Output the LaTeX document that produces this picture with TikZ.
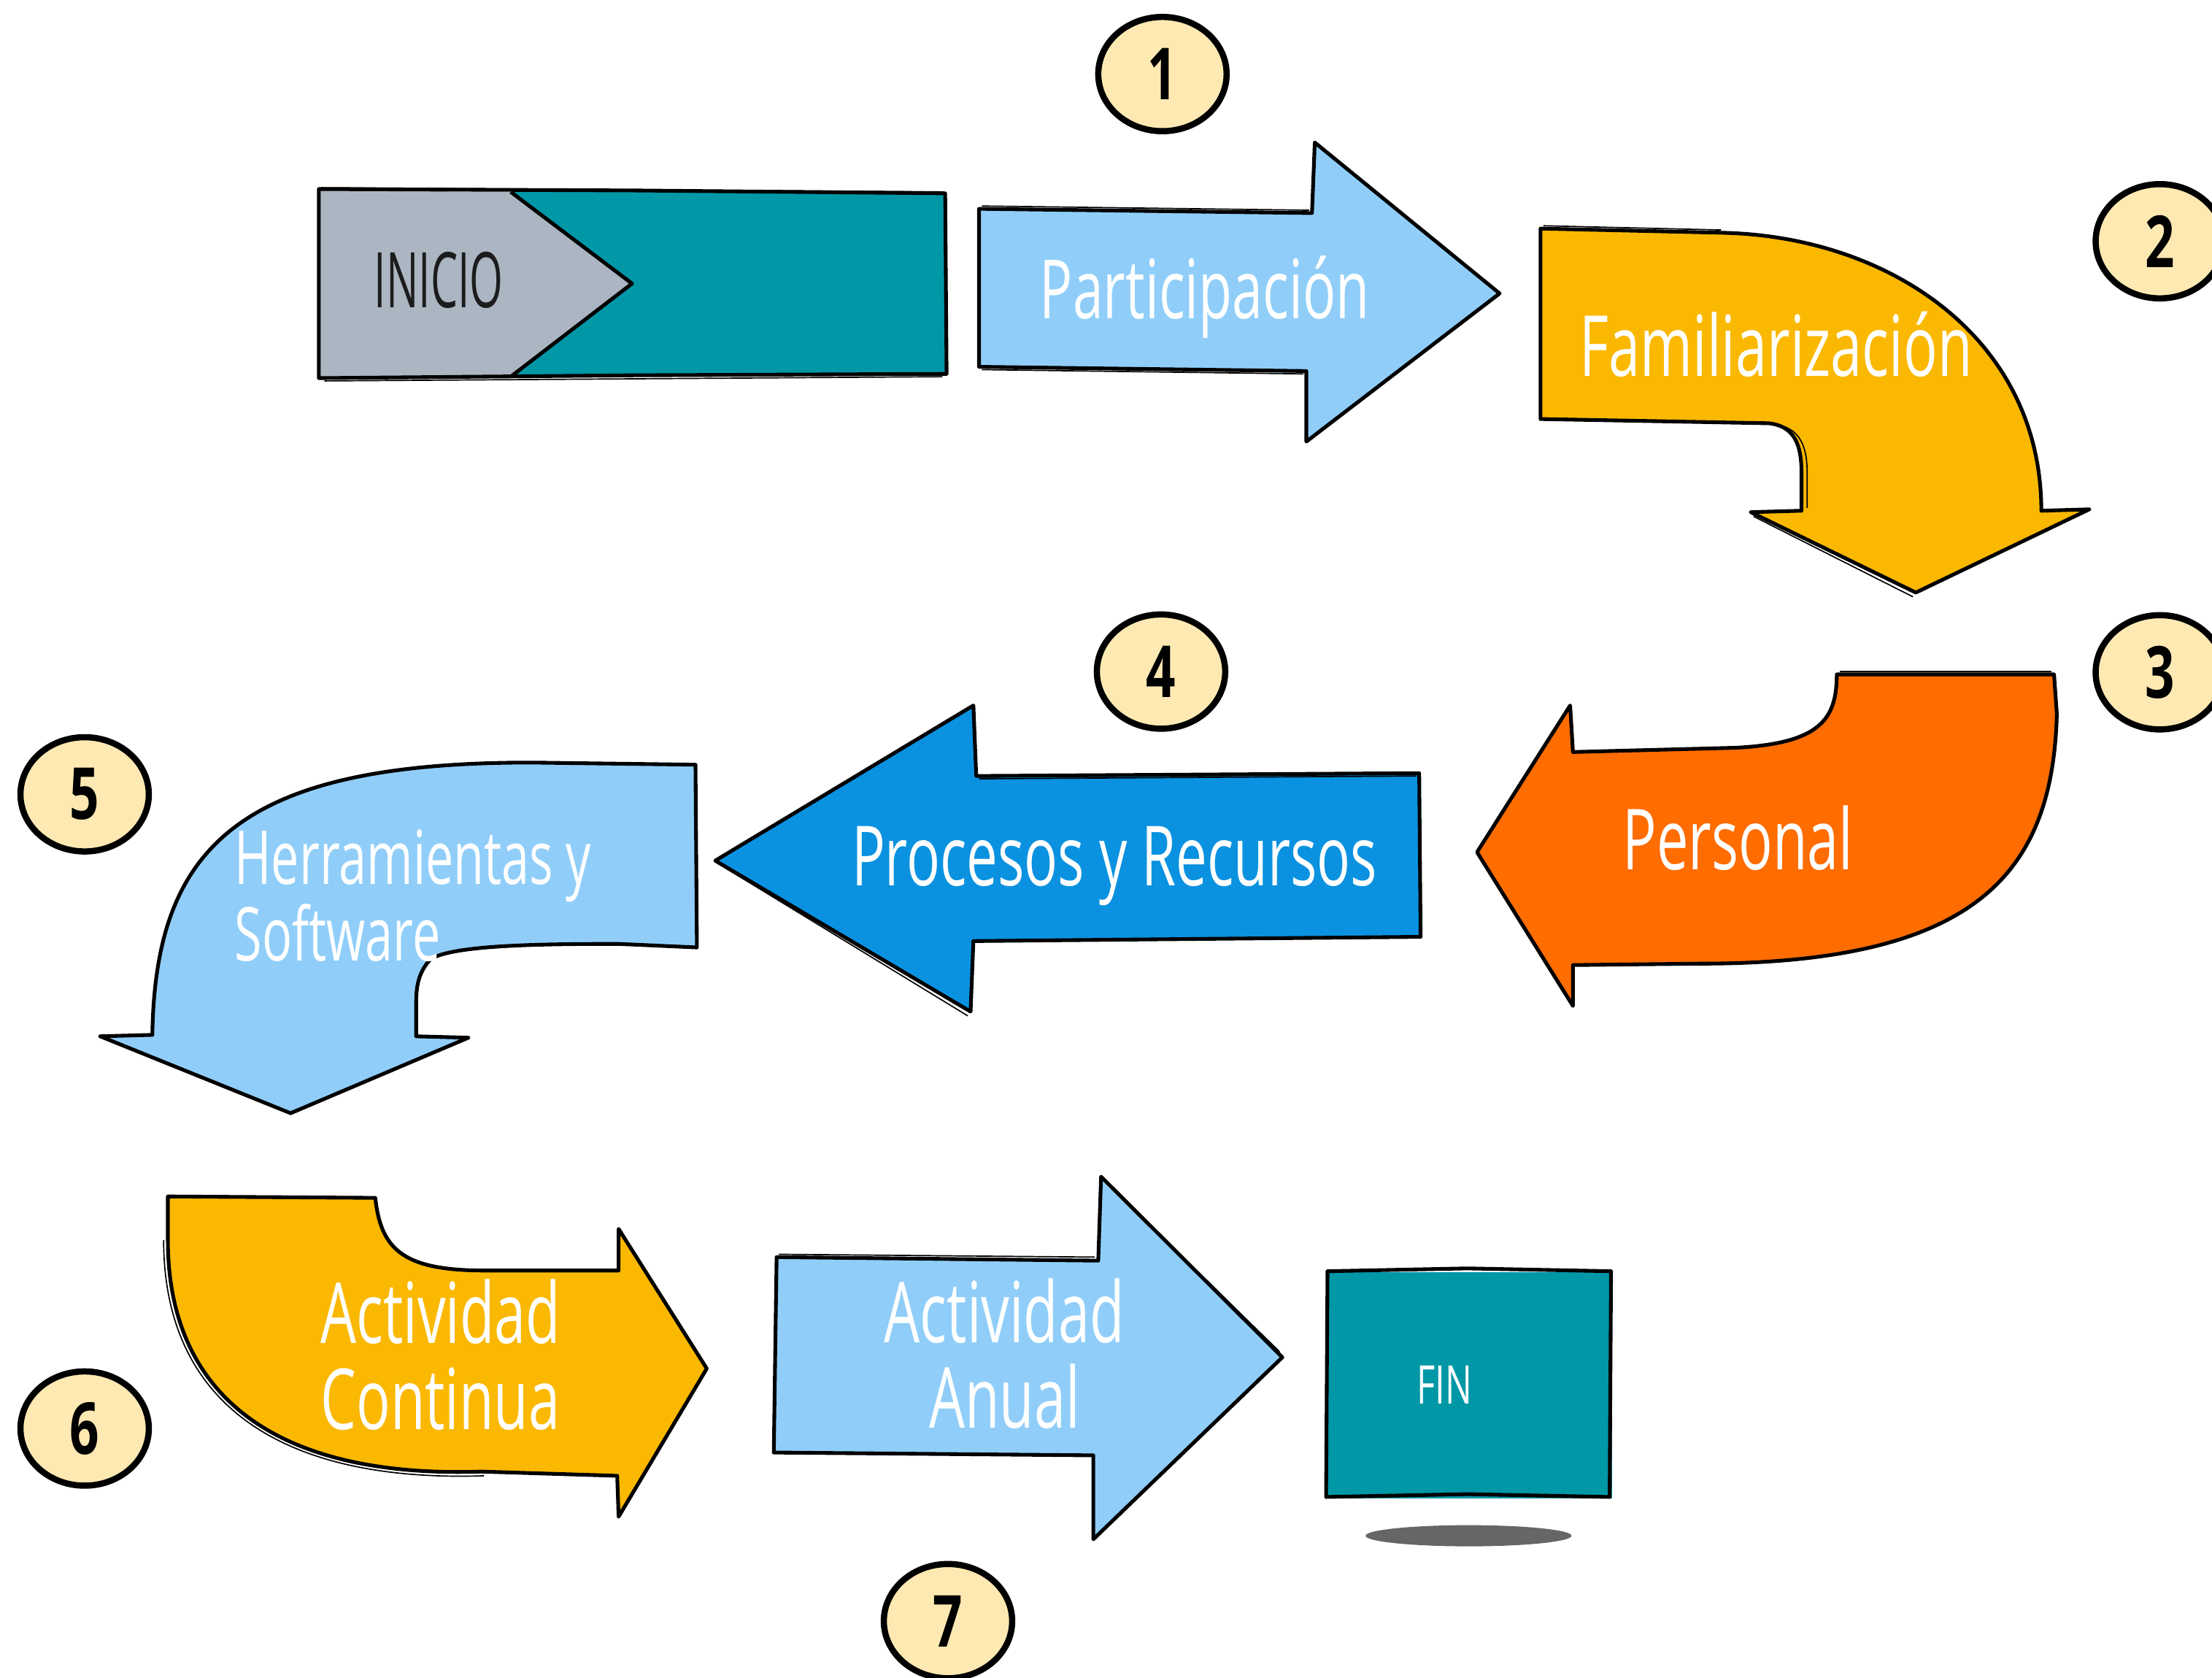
\documentclass[tikz,border=0pt]{standalone}
\usepackage{fontspec}
\setmainfont{Open Sans}[FakeStretch=0.67]
\newfontfamily\digitfont{Open Sans}[FakeStretch=0.72]
\newfontfamily\startfont{Open Sans}[FakeStretch=0.56]
\usetikzlibrary{shapes.geometric}
\definecolor{cTeal}{HTML}{0097A7}
\definecolor{cGrey}{HTML}{ABB6C2}
\definecolor{cLight}{HTML}{90CEF9}
\definecolor{cAmber}{HTML}{FBB800}
\definecolor{cOrange}{HTML}{FF6C00}
\definecolor{cBlue}{HTML}{0A92E1}
\definecolor{cCircle}{HTML}{FEE9B3}
\definecolor{cShadow}{HTML}{666666}
\definecolor{cInk}{HTML}{1C1C1C}
\tikzset{
  outline/.style={draw=black, line width=1.5pt, line join=round},
  sketch/.style={draw=black, line width=0.5pt, line join=round},
  lbl/.style={text=white, inner sep=0pt, anchor=base},
  numc/.style={ellipse, draw=black, line width=2.5pt, fill=cCircle, inner sep=0pt,
    minimum width=1.82cm, minimum height=1.62cm, text=black,
    font=\digitfont\bfseries\fontsize{29}{30}\selectfont},
}
\begin{document}
\begin{tikzpicture}[x=0.02cm, y=-0.02cm]
\useasboundingbox (0,0) rectangle (1568,1189);

% ---------- INICIO block ----------
\fill[cTeal] (360,136) rectangle (670,266);
\fill[cGrey] (226,135) -- (362,136) -- (448,201) -- (362,267) -- (226,268) -- cycle;
\draw[outline] (226,134) -- (450,135) -- (670,137) -- (671,265) -- (450,266) -- (226,268) -- cycle;
\draw[outline] (362,136) -- (448,201) -- (362,267);
\draw[sketch] (228,133) -- (668,136);
\draw[sketch] (230,270) -- (668,267);
\node[lbl, text=cInk, font=\startfont\fontsize{31}{33}\selectfont] (tInicio) at (311,218) {INICIO};

% ---------- 1 Participacion ----------
\fill[cLight] (694,148) -- (930,151) -- (932,101) -- (1063,208) -- (926,313) -- (926,263) -- (694,260) -- cycle;
\draw[outline] (694,148) -- (930,151) -- (932,101) -- (1063,208) -- (926,313) -- (926,263) -- (694,260) -- cycle;
\draw[sketch] (696,146) -- (928,149);
\draw[sketch] (696,262) -- (924,265);
\node[lbl, font=\fontsize{33}{35}\selectfont] (tPart) at (854,226) {Participación};

% ---------- 2 Familiarizacion ----------
\fill[cAmber] (1092,162) -- (1222,165) .. controls (1340,168) and (1447,240) .. (1447,362)
  -- (1481,361) -- (1358,420) -- (1241,363) -- (1277,362) -- (1277,335)
  .. controls (1277,312) and (1270,302) .. (1254,300) -- (1092,297) -- cycle;
\draw[outline] (1092,162) -- (1222,165) .. controls (1340,168) and (1447,240) .. (1447,362)
  -- (1481,361) -- (1358,420) -- (1241,363) -- (1277,362) -- (1277,335)
  .. controls (1277,312) and (1270,302) .. (1254,300) -- (1092,297) -- cycle;
\draw[sketch] (1094,160) -- (1220,163);
\draw[sketch] (1243,366) -- (1356,423);
\draw[sketch] (1281,360) -- (1281,335) .. controls (1281,315) and (1275,304) .. (1260,301);
\node[lbl, font=\fontsize{34}{36}\selectfont] (tFam) at (1259,266.5) {Familiarización};

% ---------- 3 Personal ----------
\fill[cOrange] (1302,478) -- (1456,478) -- (1458,506) .. controls (1455,620) and (1400,683) .. (1205,683)
  -- (1115,684) -- (1115,713) -- (1047,604) -- (1113,500) -- (1115,533) -- (1230,530)
  .. controls (1290,527) and (1302,510) .. (1302,478) -- cycle;
\draw[outline] (1302,478) -- (1456,478) -- (1458,506) .. controls (1455,620) and (1400,683) .. (1205,683)
  -- (1115,684) -- (1115,713) -- (1047,604) -- (1113,500) -- (1115,533) -- (1230,530)
  .. controls (1290,527) and (1302,510) .. (1302,478) -- cycle;
\draw[sketch] (1304,476) -- (1454,476);
\node[lbl, font=\fontsize{34}{36}\selectfont] (tPers) at (1232,616.5) {Personal};

% ---------- 4 Procesos y Recursos ----------
\fill[cBlue] (1006,548) -- (1007,664) -- (690,667) -- (688,717) -- (507,610) -- (690,500) -- (692,550) -- cycle;
\draw[outline] (1006,548) -- (1007,664) -- (690,667) -- (688,717) -- (507,610) -- (690,500) -- (692,550) -- cycle;
\draw[sketch] (509,612) -- (686,720);
\draw[sketch] (694,552) -- (1004,550);
\node[lbl, font=\fontsize{33.5}{35}\selectfont] (tProc) at (790,628) {Procesos y Recursos};

% ---------- 5 Herramientas y Software ----------
\fill[cLight] (493,542) -- (494,671.5) -- (438,669) .. controls (380,669) and (320,670) .. (305,680)
  .. controls (296,690) and (295,700) .. (295,712) -- (295,734.5) -- (332,735.5) -- (206,789)
  -- (71,734.5) -- (108,733.5) .. controls (110,600) and (170,540) .. (378,540.5) -- cycle;
\draw[outline] (493,542) -- (494,671.5) -- (438,669) .. controls (380,669) and (320,670) .. (305,680)
  .. controls (296,690) and (295,700) .. (295,712) -- (295,734.5) -- (332,735.5) -- (206,789)
  -- (71,734.5) -- (108,733.5) .. controls (110,600) and (170,540) .. (378,540.5) -- cycle;
\node[lbl, anchor=base west, font=\fontsize{30}{31}\selectfont] (tHerrA) at (166,626.5) {Herramientas y};
\node[lbl, anchor=base west, font=\fontsize{30}{31}\selectfont] (tHerrB) at (166,681) {Software};

% ---------- 6 Actividad Continua ----------
\fill[cAmber] (119,848) -- (266,849) .. controls (270,885) and (285,900) .. (341,900.5)
  -- (438.5,900.5) -- (438.5,871) -- (501,970) -- (438.5,1075) -- (437.5,1046)
  -- (341,1043) .. controls (190,1048) and (119,985) .. (119,879) -- cycle;
\draw[outline] (119,848) -- (266,849) .. controls (270,885) and (285,900) .. (341,900.5)
  -- (438.5,900.5) -- (438.5,871) -- (501,970) -- (438.5,1075) -- (437.5,1046)
  -- (341,1043) .. controls (190,1048) and (119,985) .. (119,879) -- cycle;
\draw[sketch] (343,1046) .. controls (190,1051) and (116,988) .. (116,879);
\node[lbl, anchor=base west, font=\fontsize{34}{35}\selectfont] (tContA) at (227,952) {Actividad};
\node[lbl, anchor=base west, font=\fontsize{34}{35}\selectfont] (tContB) at (227,1013) {Continua};

% ---------- 7 Actividad Anual ----------
\fill[cLight] (550.5,891) -- (778.5,893.5) -- (780.5,834) -- (909,962) -- (775,1091) -- (775,1031.5) -- (548.5,1029.5) -- cycle;
\draw[outline] (550.5,891) -- (778.5,893.5) -- (780.5,834) -- (909,962) -- (775,1091) -- (775,1031.5) -- (548.5,1029.5) -- cycle;
\draw[sketch] (783,837) -- (907,958);
\draw[sketch] (552,889) -- (776,891);
\node[lbl, font=\fontsize{34}{36}\selectfont] (tAnA) at (712,951.5) {Actividad};
\node[lbl, font=\fontsize{34}{36}\selectfont] (tAnB) at (712,1012) {Anual};

% ---------- FIN ----------
\fill[cShadow] (1041,1088.5) ellipse [x radius=1.46cm, y radius=0.15cm];
\fill[cTeal] (940.5,901.5) rectangle (1142.5,1062);
\draw[outline] (941,901) -- (1040,899) -- (1142,901) -- (1141,1061) -- (1040,1059) -- (940,1061) -- cycle;
\node[lbl, font=\fontsize{21.5}{23}\selectfont] (tFin) at (1024,995) {FIN};

% ---------- numbered badges ----------
\node[numc] (n1) at (824,52.5) {1};
\node[numc] (n2) at (1531,171) {2};
\node[numc] (n3) at (1531,476.5) {3};
\node[numc] (n4) at (823,476) {4};
\node[numc] (n5) at (60,563) {5};
\node[numc] (n6) at (60,1012.5) {6};
\node[numc] (n7) at (672,1149) {7};
\end{tikzpicture}
\end{document}
